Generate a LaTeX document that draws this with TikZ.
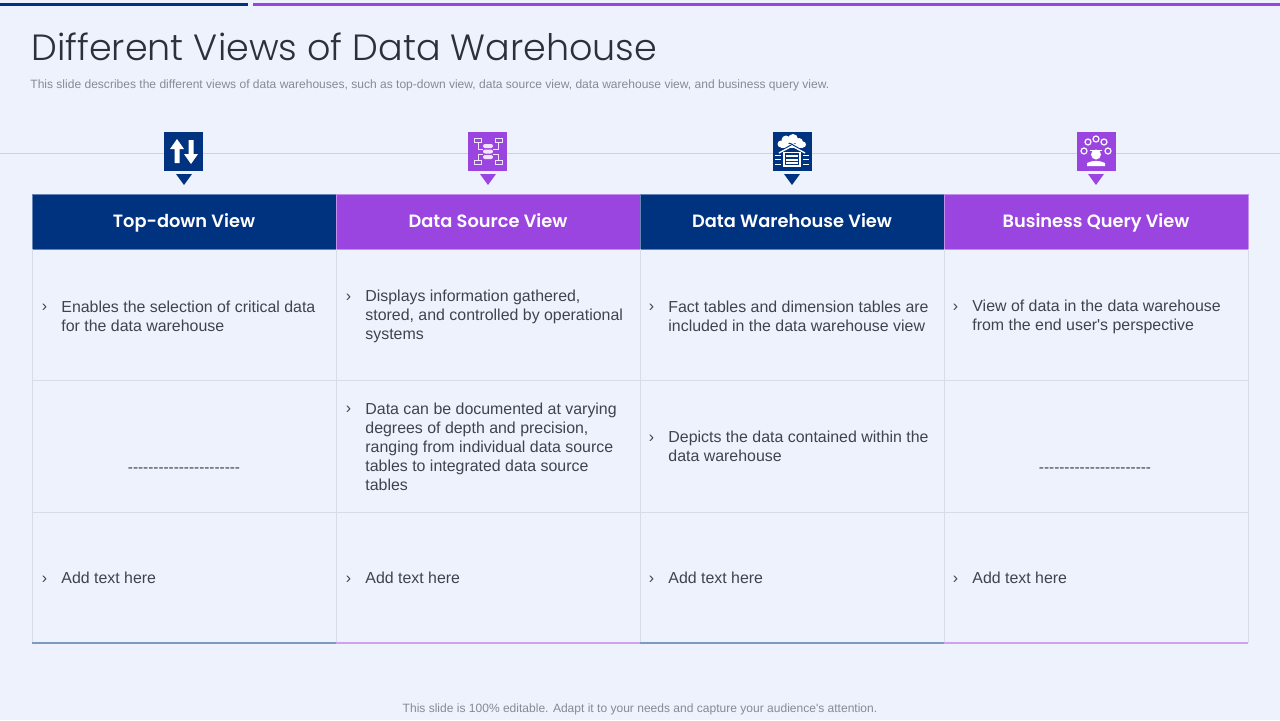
\documentclass[tikz,border=0pt]{standalone}
\usepackage{fontspec}
\setmainfont[Ligatures=TeXReset]{Liberation Sans}
\newfontfamily\titlefont{Poppins Light}
\newfontfamily\headfont{Poppins SemiBold}
\definecolor{pagebg}{HTML}{EDF2FC}
\definecolor{navy}{HTML}{00337F}
\definecolor{violet}{HTML}{9B45E0}
\definecolor{gridcol}{HTML}{D6DCE8}
\definecolor{rulecol}{HTML}{CDD3DC}
\definecolor{bodycol}{HTML}{3F4350}
\definecolor{notecol}{HTML}{858A95}
\definecolor{titlecol}{HTML}{2C303A}
\tikzset{
  head/.style={draw=#1!60!white, fill=#1, text=white, minimum width=152pt, minimum height=27.5pt, inner sep=0pt, text height=8pt, text depth=2pt, font=\headfont\fontsize{8.9}{11}\selectfont},
  pin/.style={fill=#1, minimum size=19.5pt, inner sep=0pt},
  cell/.style={anchor=west, align=left, inner sep=0pt, text=bodycol, font=\fontsize{7.96}{9.5}\selectfont},
  gap/.style={inner sep=0pt, text=bodycol, font=\fontsize{7.65}{9.5}\selectfont},
  note/.style={inner sep=0pt, text=notecol, font=\fontsize{6.02}{7}\selectfont},
}
\begin{document}
\begin{tikzpicture}[x=0.5pt,y=-0.5pt]
\useasboundingbox[fill=pagebg] (0,0) rectangle (1280,720);

% top bars and rule
\fill[navy] (0,2.5) rectangle (248,5.5);
\fill[violet] (253,2.5) rectangle (1280,5.5);
\draw[rulecol,line width=0.5pt] (0,153) -- (1280,153);

% title
\node[anchor=west,inner sep=0pt,text=titlecol,font=\titlefont\fontsize{18.25}{22}\selectfont] (title) at (31,47) {Different Views of Data Warehouse};
\node[note,anchor=west] (sub) at (30,85.5) {This slide describes the different views of data warehouses, such as top-down view, data source view, data warehouse view, and business query view.};
\node[note] (foot) at (640,709.5) {This slide is 100\% editable. Adapt it to your needs and capture your audience's attention.};

% header row
\node[head=navy] (h1) at (184,221.5) {Top-down View};
\node[head=violet] (h2) at (488,221.5) {Data Source View};
\node[head=navy] (h3) at (792,221.5) {Data Warehouse View};
\node[head=violet] (h4) at (1096,221.5) {Business Query View};

% pins
\node[pin=navy] (p1) at (183.5,151.5) {};
\node[pin=violet] (p2) at (487.75,151.5) {};
\node[pin=navy] (p3) at (792,151.5) {};
\node[pin=violet] (p4) at (1096,151.5) {};
\fill[navy] (176,174) -- (192,174) -- (184,185) -- cycle;
\fill[violet] (480,174) -- (496,174) -- (488,185) -- cycle;
\fill[navy] (784,174) -- (800,174) -- (792,185) -- cycle;
\fill[violet] (1088,174) -- (1104,174) -- (1096,185) -- cycle;

% arrows icon
\fill[white] (177,139) -- (184,149) -- (179.5,149) -- (179.5,163) -- (174.5,163) -- (174.5,149) -- (170,149) -- cycle;
\fill[white] (191,164) -- (198,154) -- (193.5,154) -- (193.5,140) -- (188.5,140) -- (188.5,154) -- (184,154) -- cycle;

% data source icon
\begin{scope}[white!85!violet,line width=0.4pt]
\draw (474,138) rectangle (481,142.5);
\draw (495,138) rectangle (502,142.5);
\draw (474,160) rectangle (481,164.5);
\draw (495,160) rectangle (502,164.5);
\draw (478,142.5) -- (478,149) -- (483,149);
\draw (498,142.5) -- (498,149) -- (493,149);
\draw (478,160) -- (478,154) -- (483,154);
\draw (498,160) -- (498,154) -- (493,154);
\fill[rounded corners=1pt] (483,144) rectangle (493,148);
\fill[rounded corners=1pt] (483,149.5) rectangle (493,153.5);
\fill[rounded corners=1pt] (483,155) rectangle (493,159);
\end{scope}

% warehouse icon
\begin{scope}[white,line width=0.4pt]
\fill (781,144) circle (3.5);
\fill (786,140) circle (4.5);
\fill (793,139) circle (5);
\fill (799,142) circle (4);
\fill (803,144.5) circle (3);
\fill (781,144) rectangle (803,147.5);
\draw[navy,line width=0.6pt] (779,152) -- (792,144.5) -- (805,152);
\draw[line width=0.7pt] (779,153) -- (792,146) -- (805,153);
\draw[line width=0.6pt] (784,166) -- (784,152.5) -- (800,152.5) -- (800,166) -- cycle;
\fill (786,155) rectangle (798,157);
\fill (786,158.5) rectangle (798,160.5);
\fill (786,162) rectangle (798,164);
\draw (775,155) -- (781,155);
\draw (775,159.5) -- (781,159.5);
\draw (775,164) -- (781,164);
\draw (803,155) -- (809,155);
\draw (803,159.5) -- (809,159.5);
\draw (803,164) -- (809,164);
\end{scope}

% query icon
\begin{scope}[white,line width=0.6pt]
\draw (1084,151) circle (3);
\draw (1088,142) circle (3);
\draw (1096,139) circle (3);
\draw (1104,142) circle (3);
\draw (1108,151) circle (3);
\fill (1096,154.5) ellipse (5 and 5);
\fill (1090,149.5) rectangle (1102,151);
\fill (1087,166) -- (1087,163) to[bend left=25] (1105,163) -- (1105,166) -- cycle;
\end{scope}

% grid
\draw[gridcol,line width=0.5pt] (32,249) -- (32,643);
\draw[gridcol,line width=0.5pt] (336,249) -- (336,643);
\draw[gridcol,line width=0.5pt] (640,249) -- (640,643);
\draw[gridcol,line width=0.5pt] (944,249) -- (944,643);
\draw[gridcol,line width=0.5pt] (1248,249) -- (1248,643);
\draw[gridcol,line width=0.5pt] (32,380.5) -- (1248,380.5);
\draw[gridcol,line width=0.5pt] (32,512.5) -- (1248,512.5);
\draw[navy!50!white,line width=1pt] (32,643) -- (336,643);
\draw[violet!50!white,line width=1pt] (336,643) -- (640,643);
\draw[navy!50!white,line width=1pt] (640,643) -- (944,643);
\draw[violet!50!white,line width=1pt] (944,643) -- (1248,643);

% first row
\node[cell] (b11) at (41.5,307.5) {›};
\node[cell] (c11) at (61,316) {Enables the selection of critical data\\for the data warehouse};
\node[cell] (b12) at (345.5,298) {›};
\node[cell] (c12) at (365,316) {Displays information gathered,\\stored, and controlled by operational\\systems};
\node[cell] (b13) at (648.5,307.5) {›};
\node[cell] (c13) at (668,316) {Fact tables and dimension tables are\\included in the data warehouse view};
\node[cell] (b14) at (952.5,307.5) {›};
\node[cell] (c14) at (972,316.5) {View of data in the data warehouse\\from the end user's perspective};

% second row
\node[gap] (c21) at (184,470) {----------------------};
\node[cell] (b22) at (345.5,409.5) {›};
\node[cell] (c22) at (365,446.5) {Data can be documented at varying\\degrees of depth and precision,\\ranging from individual data source\\tables to integrated data source\\tables};
\node[cell] (b23) at (648.5,438.5) {›};
\node[cell] (c23) at (668,446.5) {Depicts the data contained within the\\data warehouse};
\node[gap] (c24) at (1095,470) {----------------------};

% third row
\node[cell] (b31) at (41.5,579.5) {›};
\node[cell] (c31) at (61,578) {Add text here};
\node[cell] (b32) at (345.5,579.5) {›};
\node[cell] (c32) at (365,578) {Add text here};
\node[cell] (b33) at (648.5,579.5) {›};
\node[cell] (c33) at (668,578) {Add text here};
\node[cell] (b34) at (952.5,579.5) {›};
\node[cell] (c34) at (972,578) {Add text here};
\end{tikzpicture}
\end{document}
